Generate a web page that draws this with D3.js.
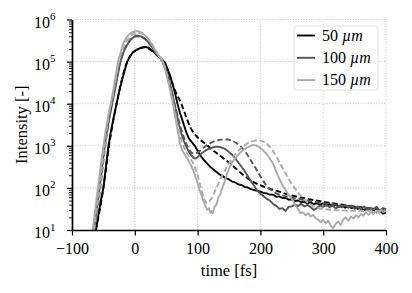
<!DOCTYPE html>
<html>
<head>
<meta charset="utf-8">
<style>
  body { margin: 0; padding: 0; background: white; }
  svg text { font-family: "Liberation Serif", "Times New Roman", serif; fill: #000; }
  .grid line { stroke: #b8b8b8; stroke-width: 0.8; stroke-dasharray: 1,1.6; }
  .axis path, .axis line { stroke: #000; }
  .axis path { stroke-width: 1.4; }
  .axis .tick line { stroke-width: 1.2; }
  .axis.minor .tick line { stroke-width: 0.9; }
</style>
</head>
<body>
<div id="chart"></div>
<script src="https://d3js.org/d3.v7.min.js"></script>
<script>
// time [fs] vs log10 intensity
var meas50 = [[-62,1.0],[-58,1.35],[-54,1.7],[-50,2.0],[-46,2.5],[-42,3.0],[-38,3.35],[-34,3.65],[-29,4.0],[-25,4.28],[-21,4.52],[-16,4.8],[-12,5.0],[-8,5.12],[-3,5.22],[3,5.28],[10,5.33],[16,5.35],[22,5.33],[28,5.26],[34,5.17],[40,5.1],[48,4.98],[54,4.75],[60,4.48],[64,4.25],[68,4.0],[72,3.78],[77,3.55],[82,3.32],[86,3.18],[90,3.1],[96,2.99],[100,2.88],[104,2.78],[109,2.68],[115,2.58],[120,2.5],[125,2.44],[130,2.38],[135,2.32],[140,2.28],[145,2.23],[150,2.2],[155,2.15],[160,2.13],[165,2.08],[170,2.07],[175,2.02],[180,2.01],[185,1.97],[190,1.95],[195,1.93],[200,1.91],[205,1.88],[210,1.87],[215,1.84],[220,1.84],[225,1.79],[230,1.8],[235,1.76],[240,1.76],[245,1.72],[250,1.73],[255,1.69],[260,1.7],[265,1.66],[270,1.67],[275,1.63],[280,1.66],[285,1.61],[290,1.64],[295,1.6],[300,1.63],[305,1.58],[310,1.61],[315,1.57],[320,1.6],[325,1.55],[330,1.58],[335,1.53],[340,1.57],[345,1.52],[350,1.55],[355,1.5],[360,1.53],[365,1.47],[370,1.51],[375,1.45],[380,1.48],[385,1.42],[390,1.46],[395,1.39],[400,1.42]];

var sim50 = [[-62,1.0],[-50,2.0],[-41,3.0],[-29,4.0],[-12,5.0],[-4,5.2],[6,5.3],[16,5.34],[28,5.25],[40,5.08],[48,4.95],[55,4.7],[63,4.35],[74,4.0],[81,3.72],[88,3.45],[100,3.2],[112,3.05],[124,2.9],[137,2.75],[151,2.59],[167,2.38],[183,2.19],[205,2.03],[226,1.93],[250,1.82],[275,1.74],[300,1.67],[350,1.56],[400,1.47]];

var meas100 = [[-65,1.0],[-61,1.45],[-56,2.0],[-52,2.5],[-48,3.0],[-42,3.55],[-36,4.0],[-30,4.45],[-23,5.0],[-16,5.3],[-8,5.5],[-2,5.58],[2,5.62],[10,5.6],[18,5.52],[26,5.38],[34,5.2],[42,5.05],[48,4.9],[54,4.6],[59,4.3],[63,4.02],[67,3.74],[70,3.52],[74,3.3],[78,3.12],[82,2.98],[86,2.86],[90,2.77],[94,2.71],[97,2.7],[100,2.73],[104,2.79],[108,2.84],[113,2.89],[118,2.93],[124,2.96],[130,2.98],[136,2.97],[142,2.94],[148,2.88],[154,2.8],[160,2.7],[166,2.58],[172,2.46],[178,2.33],[184,2.18],[190,2.05],[195,1.93],[200,1.86],[205,1.8],[210,1.74],[215,1.7],[220,1.62],[225,1.58],[230,1.5],[235,1.52],[240,1.45],[245,1.55],[250,1.56],[255,1.6],[260,1.57],[265,1.62],[270,1.56],[275,1.6],[280,1.54],[285,1.48],[290,1.52],[295,1.58],[300,1.55],[305,1.6],[310,1.54],[315,1.58],[320,1.51],[325,1.57],[330,1.54],[335,1.6],[340,1.53],[345,1.58],[350,1.5],[355,1.55],[360,1.49],[365,1.56],[370,1.48],[375,1.53],[380,1.49],[385,1.55],[390,1.46],[395,1.52],[400,1.49]];

var sim100 = [[-64,1.0],[-55,2.0],[-47,3.0],[-39,3.8],[-34,4.2],[-28,4.65],[-23,5.0],[-16,5.3],[-8,5.5],[2,5.6],[12,5.58],[22,5.45],[32,5.25],[42,5.05],[50,4.75],[57,4.35],[63,4.0],[70,3.6],[78,3.2],[85,2.95],[93,2.82],[100,2.84],[110,2.96],[120,3.06],[135,3.14],[148,3.15],[162,3.06],[175,2.88],[187,2.6],[199,2.3],[210,2.05],[222,1.9],[240,1.8],[260,1.74],[290,1.66],[330,1.58],[370,1.52],[400,1.48]];

var meas150 = [[-67,1.0],[-62,1.6],[-58,2.1],[-54,2.55],[-50,3.0],[-46,3.4],[-42,3.72],[-38,4.02],[-34,4.35],[-30,4.7],[-27,4.98],[-22,5.25],[-18,5.45],[-12,5.6],[-6,5.68],[0,5.72],[6,5.72],[12,5.68],[18,5.6],[24,5.48],[30,5.33],[36,5.18],[42,5.06],[46,4.95],[50,4.72],[55,4.4],[60,4.05],[64,3.72],[68,3.38],[72,3.05],[76,2.88],[80,2.78],[85,2.66],[89,2.55],[93,2.42],[97,2.25],[100,2.12],[103,1.96],[106,1.84],[109,1.7],[112,1.6],[115,1.48],[118,1.52],[120,1.41],[122,1.45],[124,1.4],[127,1.55],[130,1.6],[133,1.78],[136,1.85],[140,2.03],[143,2.15],[146,2.3],[150,2.45],[154,2.58],[158,2.67],[163,2.76],[168,2.84],[173,2.9],[178,2.95],[183,2.99],[188,3.02],[193,3.01],[198,2.97],[204,2.9],[210,2.8],[215,2.7],[220,2.58],[225,2.4],[230,2.22],[235,2.07],[240,1.95],[244,1.85],[248,1.78],[252,1.7],[256,1.58],[260,1.5],[264,1.4],[268,1.42],[272,1.35],[276,1.4],[280,1.32],[284,1.36],[288,1.28],[292,1.25],[296,1.18],[300,1.24],[304,1.16],[308,1.22],[312,1.1],[316,1.04],[320,1.15],[324,1.2],[328,1.12],[332,1.25],[336,1.3],[340,1.22],[344,1.32],[348,1.27],[352,1.35],[356,1.3],[360,1.38],[364,1.34],[368,1.42],[372,1.36],[376,1.44],[380,1.38],[384,1.45],[388,1.4],[392,1.48],[396,1.43],[400,1.46]];

var sim150 = [[-65,1.0],[-56,2.0],[-48,3.0],[-40,3.85],[-36,4.1],[-30,4.6],[-25,5.0],[-18,5.35],[-10,5.55],[0,5.67],[8,5.68],[16,5.62],[26,5.45],[36,5.2],[44,5.02],[50,4.75],[56,4.4],[61,4.05],[68,3.5],[75,3.1],[85,2.78],[93,2.58],[100,2.3],[105,2.02],[110,1.75],[115,1.64],[121,1.72],[130,2.0],[140,2.32],[150,2.58],[160,2.8],[172,2.98],[185,3.1],[197,3.13],[208,3.07],[220,2.88],[230,2.62],[238,2.4],[247,2.16],[257,1.95],[268,1.75],[280,1.6],[300,1.5],[340,1.46],[400,1.45]];

var labels = ["50", "100", "150"];
var colors = ["#000000", "#555555", "#aaaaaa"];
var xTicks = [-100, 0, 100, 200, 300, 400];
var yExponents = [1, 2, 3, 4, 5, 6];

var width = 412, height = 293;
var margin = {top: 19.5, right: 26, bottom: 63, left: 72};

var svg = d3.select("#chart").append("svg")
    .attr("width", width)
    .attr("height", height);

var x = d3.scaleLinear().domain([-100, 400]).range([margin.left, width - margin.right]);
var y = d3.scaleLog().domain([10, 1e6]).range([height - margin.bottom, margin.top]);

var yMajor = yExponents.map(function (e) { return Math.pow(10, e); });
var yMinor = [];
yExponents.slice(0, -1).forEach(function (e) {
  for (var k = 2; k < 10; k++) yMinor.push(k * Math.pow(10, e));
});

// grid
var grid = svg.append("g").attr("class", "grid");
grid.selectAll(".gx").data(xTicks.slice(1)).enter().append("line")
    .attr("x1", function (d) { return x(d); }).attr("x2", function (d) { return x(d); })
    .attr("y1", y(10)).attr("y2", y(1e6));
grid.selectAll(".gy").data(yMajor.slice(1)).enter().append("line")
    .attr("y1", function (d) { return y(d); }).attr("y2", function (d) { return y(d); })
    .attr("x1", x(-100)).attr("x2", x(400));

// clip
svg.append("clipPath").attr("id", "clip").append("rect")
    .attr("x", x(-100)).attr("y", y(1e6))
    .attr("width", x(400) - x(-100)).attr("height", y(10) - y(1e6));

var line = d3.line()
    .x(function (d) { return x(d[0]); })
    .y(function (d) { return y(Math.pow(10, d[1])); });

var smooth = d3.line()
    .curve(d3.curveMonotoneX)
    .x(function (d) { return x(d[0]); })
    .y(function (d) { return y(Math.pow(10, d[1])); });

var meas = [meas50, meas100, meas150];
var sims = [sim50, sim100, sim150];

var plot = svg.append("g").attr("clip-path", "url(#clip)");
for (var i = 0; i < 3; i++) {
  plot.append("path").datum(meas[i])
      .attr("d", line)
      .attr("fill", "none")
      .attr("stroke", colors[i])
      .attr("stroke-width", 1.9)
      .attr("stroke-linejoin", "round");
  plot.append("path").datum(sims[i])
      .attr("d", smooth)
      .attr("fill", "none")
      .attr("stroke", colors[i])
      .attr("stroke-width", 1.9)
      .attr("stroke-dasharray", "5.5,2.8");
}

// axes
var xAxis = svg.append("g").attr("class", "axis")
    .attr("transform", "translate(0," + y(10) + ")")
    .call(d3.axisBottom(x).tickValues(xTicks).tickSize(5.5).tickSizeOuter(0).tickPadding(7)
      .tickFormat(function (d) { return d < 0 ? "\u2212" + Math.abs(d) : d; }));
xAxis.selectAll("text").attr("font-size", 16);

svg.append("g").attr("class", "axis minor")
    .attr("transform", "translate(" + x(-100) + ",0)")
    .call(d3.axisLeft(y).tickValues(yMinor).tickSize(3).tickSizeOuter(0).tickFormat(""));

var yAxis = svg.append("g").attr("class", "axis")
    .attr("transform", "translate(" + x(-100) + ",0)")
    .call(d3.axisLeft(y).tickValues(yMajor).tickSize(5).tickSizeOuter(0).tickFormat(""));

yAxis.selectAll(".tick text").each(function (d) {
  var t = d3.select(this).attr("dy", null).attr("y", 7.6)
      .attr("font-size", 16).attr("text-anchor", "end");
  t.append("tspan").text("10");
  t.append("tspan").attr("font-size", 11).attr("dy", -7.6)
      .text(Math.round(Math.log10(d)));
});
yAxis.selectAll(".tick text").attr("x", -16.5);

// axis labels
svg.append("text")
    .attr("x", (x(-100) + x(400)) / 2).attr("y", 276)
    .attr("text-anchor", "middle").attr("font-size", 16.5)
    .text("time [fs]");

svg.append("text")
    .attr("transform", "translate(27," + ((y(10) + y(1e6)) / 2) + ") rotate(-90)")
    .attr("text-anchor", "middle").attr("font-size", 16.5)
    .text("Intensity [-]");

// legend
var legend = svg.append("g");
legend.append("rect")
    .attr("x", 294).attr("y", 26).attr("width", 84).attr("height", 64)
    .attr("rx", 2.5).attr("fill", "white").attr("fill-opacity", 0.85)
    .attr("stroke", "#dddddd").attr("stroke-width", 0.9);

var items = legend.selectAll(".item").data(labels).enter().append("g")
    .attr("transform", function (d, i) { return "translate(0," + (35.5 + i * 22.3) + ")"; });
items.append("line")
    .attr("x1", 297).attr("x2", 315)
    .attr("stroke", function (d, i) { return colors[i]; })
    .attr("stroke-width", 1.9);
var lt = items.append("text")
    .attr("x", 322).attr("y", 5).attr("font-size", 16);
lt.append("tspan").text(function (d) { return d + " "; });
lt.append("tspan").attr("font-style", "italic").text("\u00b5m");
</script>
</body>
</html>
